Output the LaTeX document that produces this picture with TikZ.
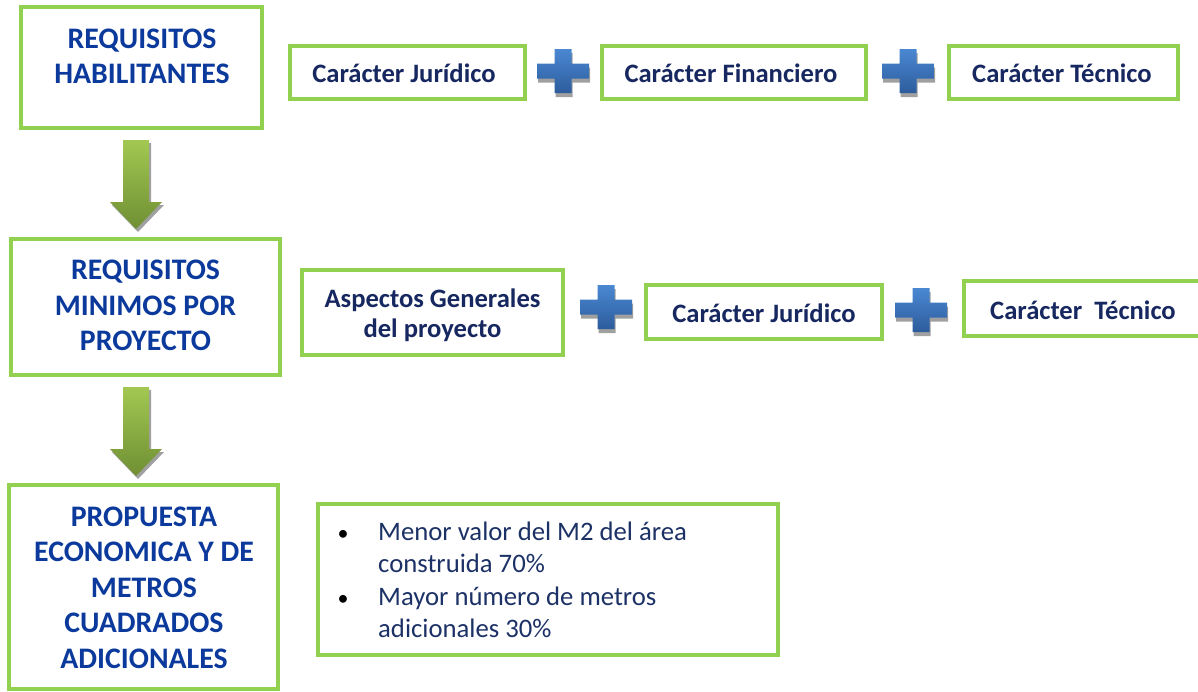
\documentclass[tikz,border=0pt]{standalone}
\usepackage{fontspec}
\setmainfont{Carlito}
\definecolor{boxgreen}{HTML}{92D050}
\definecolor{mainblue}{HTML}{0B3A9C}
\definecolor{navyt}{HTML}{172760}
\definecolor{bullt}{HTML}{1C3166}
\definecolor{plustop}{HTML}{4A88D2}
\definecolor{plusbot}{HTML}{2D5C9C}
\definecolor{arrtop}{HTML}{A3C852}
\definecolor{arrbot}{HTML}{6F8F33}
\definecolor{shadowgray}{HTML}{A0A0A0}
\tikzset{
  gbox/.style={draw=boxgreen, line width=4pt, fill=white, inner sep=0pt},
  maintext/.style={font=\bfseries\fontsize{29.8}{35.5}\selectfont, text=mainblue, align=center, inner sep=0pt},
  sidetext/.style={font=\bfseries\fontsize{26.6}{30}\selectfont, text=navyt, align=center, inner sep=0pt},
  bultext/.style={font=\fontsize{26.7}{32}\selectfont, text=bullt, inner sep=0pt, anchor=base west},
  bulmark/.style={font=\fontsize{22}{24}\selectfont, text=black, inner sep=0pt, anchor=base},
}
\newcommand\myplus[2]{%
  \begin{scope}[shift={(#1,#2)}]
    \fill[shadowgray] (-8.5+1,-22+4) -- (8.5+1,-22+4) -- (8.5+1,-7.5+4) -- (26+1,-7.5+4) -- (26+1,7.5+4) -- (8.5+1,7.5+4) -- (8.5+1,22+4) -- (-8.5+1,22+4) -- (-8.5+1,7.5+4) -- (-26+1,7.5+4) -- (-26+1,-7.5+4) -- (-8.5+1,-7.5+4) -- cycle;
    \shade[top color=plustop, bottom color=plusbot] (-8.5,-22) -- (8.5,-22) -- (8.5,-7.5) -- (26,-7.5) -- (26,7.5) -- (8.5,7.5) -- (8.5,22) -- (-8.5,22) -- (-8.5,7.5) -- (-26,7.5) -- (-26,-7.5) -- (-8.5,-7.5) -- cycle;
  \end{scope}}
\newcommand\myarrow[2]{%
  \begin{scope}[shift={(#1,#2)}]
    \fill[shadowgray] (-13+2,0+3) -- (13+2,0+3) -- (13+2,62+3) -- (26+2,62+3) -- (0+2,89+3) -- (-26+2,62+3) -- (-13+2,62+3) -- cycle;
    \shade[top color=arrtop, bottom color=arrbot] (-13,0) -- (13,0) -- (13,62) -- (26,62) -- (0,89) -- (-26,62) -- (-13,62) -- cycle;
  \end{scope}}
\begin{document}
\begin{tikzpicture}[x=1pt,y=-1pt]
\useasboundingbox[fill=white] (0,0) rectangle (1198,691);
% main boxes
\node[gbox, minimum width=241pt, minimum height=121pt] (hab) at (141.5,67.5) {};
\node[maintext] (habt) at (142,56.5) {REQUISITOS\\HABILITANTES};
\node[gbox, minimum width=269pt, minimum height=136pt] (min) at (145.5,307) {};
\node[maintext] (mint) at (145.5,305.5) {REQUISITOS\\MINIMOS POR\\PROYECTO};
\node[gbox, minimum width=269pt, minimum height=204pt] (pro) at (143.5,587) {};
\node[maintext] (prot) at (144,587.5) {PROPUESTA\\ECONOMICA Y DE\\METROS\\CUADRADOS\\ADICIONALES};
% arrows between main boxes
\myarrow{136}{140}
\myarrow{136}{387}
% row 1
\node[gbox, minimum width=235pt, minimum height=53pt] (a1) at (407.5,72.5) {};
\node[sidetext] (a1t) at (404,73.5) {Carácter Jurídico};
\node[gbox, minimum width=264pt, minimum height=53pt] (a2) at (734,72.5) {};
\node[sidetext] (a2t) at (731,73.5) {Carácter Financiero};
\node[gbox, minimum width=229pt, minimum height=53pt] (a3) at (1063.5,72.5) {};
\node[sidetext] (a3t) at (1062,73.5) {Carácter Técnico};
\myplus{563}{71}
\myplus{908}{71}
% row 2
\node[gbox, minimum width=261pt, minimum height=85pt] (b1) at (432.5,312.5) {};
\node[sidetext] (b1t) at (432.5,315) {Aspectos Generales\\del proyecto};
\node[gbox, minimum width=236pt, minimum height=54pt] (b2) at (764,312) {};
\node[sidetext] (b2t) at (764,313.5) {Carácter Jurídico};
\node[gbox, minimum width=238pt, minimum height=55pt] (b3) at (1083,308.5) {};
\node[sidetext] (b3t) at (1083,310) {Carácter\ \ Técnico};
\myplus{606}{307}
\myplus{921}{310}
% bullet box
\node[gbox, minimum width=460pt, minimum height=151pt] (bul) at (548,579.5) {};
\node[bulmark] (m1) at (343,540) {•};
\node[bultext] (l1) at (378,540) {Menor valor del M2 del área};
\node[bultext] (l2) at (378,572.5) {construida 70\%};
\node[bulmark] (m2) at (343,605) {•};
\node[bultext] (l3) at (378,605) {Mayor número de metros};
\node[bultext] (l4) at (378,637.5) {adicionales 30\%};
\end{tikzpicture}
\end{document}
